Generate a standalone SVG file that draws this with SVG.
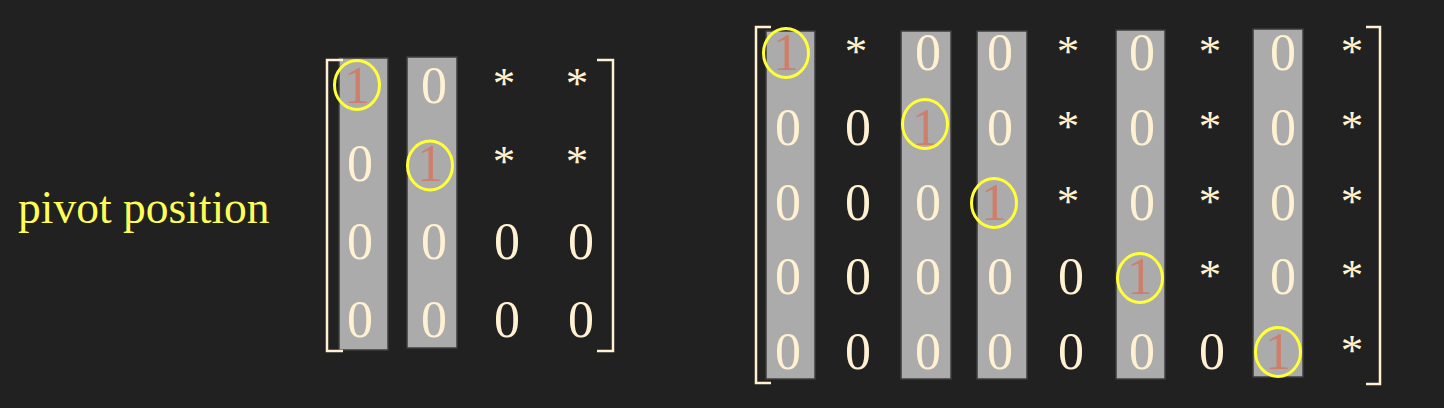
<svg xmlns="http://www.w3.org/2000/svg" width="1444" height="408" viewBox="0 0 1444 408">
<style>
.bg{fill:#212121}
.col{fill:#ababab;stroke:#3c3c3c;stroke-width:1.5}
.br{fill:none;stroke:#fff1d2;stroke-width:2.5}
.t{font-family:"Liberation Serif",serif;font-size:52px;fill:#fff1d2;text-anchor:middle}
.s{font-family:"Liberation Serif",serif;font-size:45px;fill:#fff1d2;text-anchor:middle}
.one{font-family:"Liberation Serif",serif;font-size:52px;fill:#cd7f6c;text-anchor:middle}
.pv{fill:none;stroke:#ffff3a;stroke-width:3}
.lbl{font-family:"Liberation Serif",serif;font-size:45.5px;fill:#ffff55}
</style>
<rect class="bg" x="0" y="0" width="1444" height="408"/>
<g id="label"><text class="lbl" x="18" y="223">pivot position</text></g>
<g id="matrix-left">
<rect class="col" x="339" y="58" width="49" height="292"/>
<rect class="col" x="407" y="57" width="50" height="291"/>
<path class="br" d="M343,60 H327 V351 H343"/>
<path class="br" d="M597,60 H613 V351 H597"/>
<text class="one" x="357" y="103">1</text><text class="t" x="434" y="103">0</text><text class="s" x="504" y="98">*</text><text class="s" x="577" y="98">*</text>
<text class="t" x="360" y="181">0</text><text class="one" x="430" y="181">1</text><text class="s" x="504" y="176">*</text><text class="s" x="577" y="176">*</text>
<text class="t" x="360" y="259">0</text><text class="t" x="434" y="259">0</text><text class="t" x="507" y="259">0</text><text class="t" x="581" y="259">0</text>
<text class="t" x="360" y="337">0</text><text class="t" x="434" y="337">0</text><text class="t" x="507" y="337">0</text><text class="t" x="581" y="337">0</text>
<ellipse class="pv" cx="357" cy="85" rx="22.5" ry="24.5"/>
<ellipse class="pv" cx="430" cy="165.5" rx="22.5" ry="24.5"/>
</g>
<g id="matrix-right">
<rect class="col" x="766" y="31" width="49" height="348"/>
<rect class="col" x="901" y="31" width="50" height="348"/>
<rect class="col" x="977" y="31" width="50" height="348"/>
<rect class="col" x="1116" y="30" width="49" height="349"/>
<rect class="col" x="1253" y="29" width="50" height="348"/>
<path class="br" d="M771,27 H756 V383 H771"/>
<path class="br" d="M1366,27 H1380 V384 H1366"/>
<text class="one" x="786" y="70">1</text><text class="s" x="856" y="66">*</text><text class="t" x="928" y="70">0</text><text class="t" x="1000" y="70">0</text><text class="s" x="1068" y="66">*</text><text class="t" x="1142" y="70">0</text><text class="s" x="1210" y="66">*</text><text class="t" x="1283" y="70">0</text><text class="s" x="1352" y="66">*</text>
<text class="t" x="788" y="145">0</text><text class="t" x="858" y="145">0</text><text class="one" x="925" y="145">1</text><text class="t" x="1000" y="145">0</text><text class="s" x="1068" y="141">*</text><text class="t" x="1142" y="145">0</text><text class="s" x="1210" y="141">*</text><text class="t" x="1283" y="145">0</text><text class="s" x="1352" y="141">*</text>
<text class="t" x="788" y="220">0</text><text class="t" x="858" y="220">0</text><text class="t" x="928" y="220">0</text><text class="one" x="994" y="220">1</text><text class="s" x="1068" y="216">*</text><text class="t" x="1142" y="220">0</text><text class="s" x="1210" y="216">*</text><text class="t" x="1283" y="220">0</text><text class="s" x="1352" y="216">*</text>
<text class="t" x="788" y="294">0</text><text class="t" x="858" y="294">0</text><text class="t" x="928" y="294">0</text><text class="t" x="1000" y="294">0</text><text class="t" x="1071" y="294">0</text><text class="one" x="1140" y="294">1</text><text class="s" x="1210" y="290">*</text><text class="t" x="1283" y="294">0</text><text class="s" x="1352" y="290">*</text>
<text class="t" x="788" y="369">0</text><text class="t" x="858" y="369">0</text><text class="t" x="928" y="369">0</text><text class="t" x="1000" y="369">0</text><text class="t" x="1071" y="369">0</text><text class="t" x="1142" y="369">0</text><text class="t" x="1212" y="369">0</text><text class="one" x="1278" y="369">1</text><text class="s" x="1352" y="365">*</text>
<ellipse class="pv" cx="786" cy="53" rx="22.5" ry="24.5"/>
<ellipse class="pv" cx="925" cy="124" rx="22.5" ry="24.5"/>
<ellipse class="pv" cx="994" cy="203" rx="22.5" ry="24.5"/>
<ellipse class="pv" cx="1140" cy="278" rx="22.5" ry="24.5"/>
<ellipse class="pv" cx="1278" cy="352" rx="22.5" ry="24.5"/>
</g>
</svg>
